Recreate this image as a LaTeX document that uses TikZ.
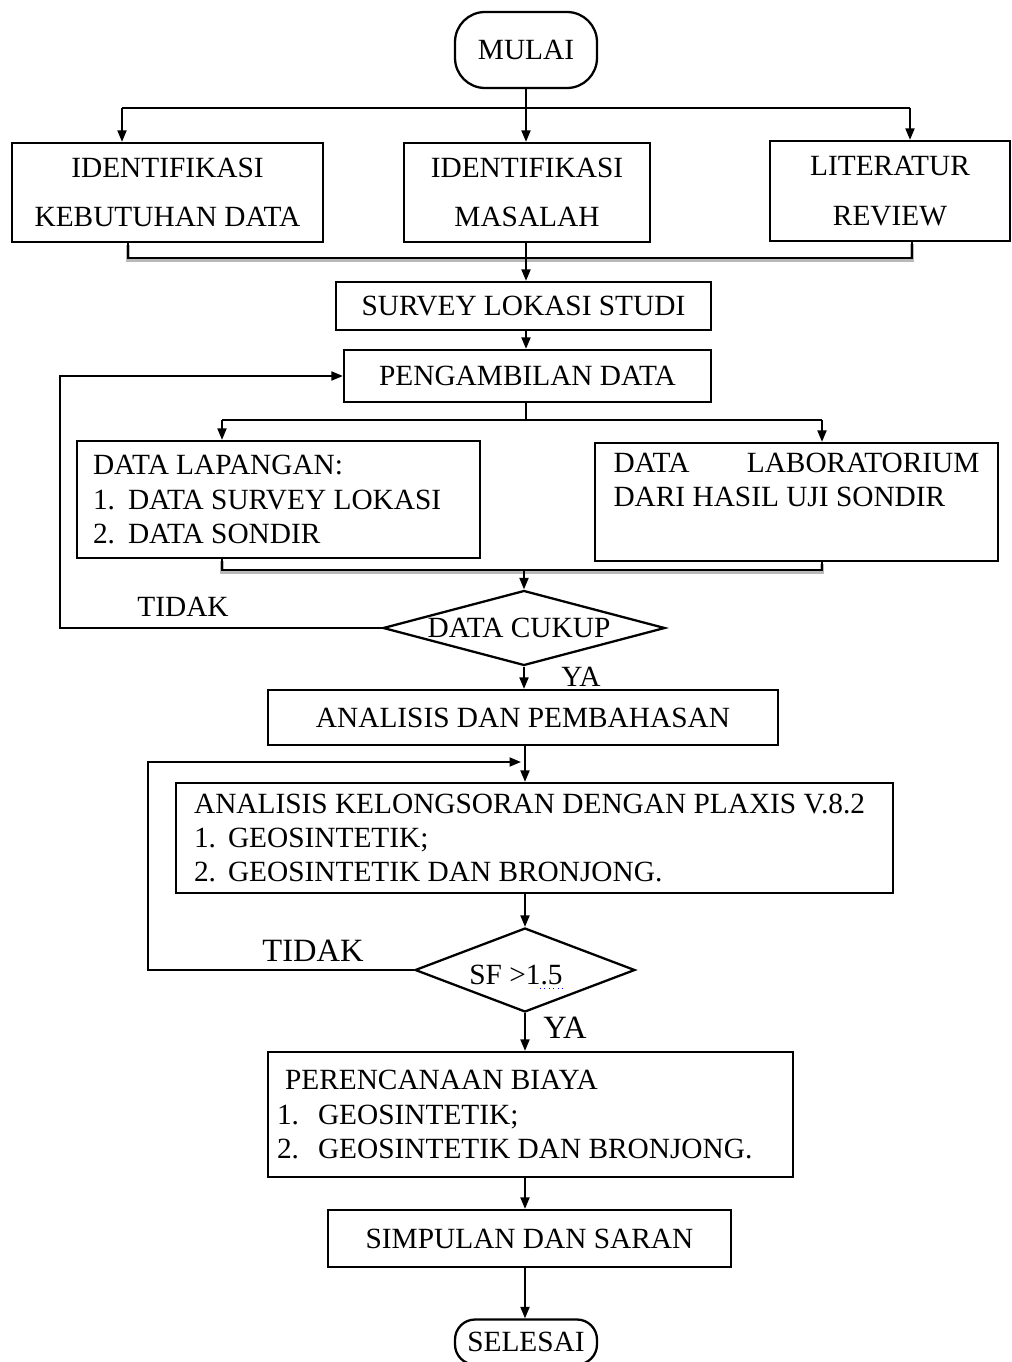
\documentclass[tikz,border=0pt]{standalone}
\usepackage{fontspec}
\setmainfont{Liberation Serif}
\usetikzlibrary{positioning,shapes.geometric,arrows.meta,calc}

\begin{document}
\begin{tikzpicture}[
    x=0.02cm, y=-0.02cm,
    font=\fontsize{16.7}{19.6}\selectfont,
    line width=1.1pt,
    box/.style={draw, line width=1.3pt, inner sep=0pt, align=center},
    listbox/.style={draw, line width=1.3pt, align=flush left, inner ysep=0pt},
    term/.style={box, rounded corners=0.6cm, minimum width=2.84cm},
    decision/.style={diamond, draw, line width=1.3pt, inner sep=0pt},
    arr/.style={-{Triangle[length=0.23cm,width=0.18cm]}},
    merge/.style={preaction={draw, gray!55, line width=2.2pt, transform canvas={yshift=-0.04cm}}},
    lbl/.style={inner sep=0pt}
]
    \useasboundingbox (0,0) rectangle (1011,1362);

    % Boxes, top to bottom:
    \node[term, minimum height=1.52cm] (mulai) at (526,50) {MULAI};
    \node[box, minimum width=6.22cm, minimum height=1.98cm] (idkeb) at (167.5,192.5) {IDENTIFIKASI\\[0.3cm]KEBUTUHAN DATA};
    \node[box, minimum width=4.92cm, minimum height=1.98cm] (idmas) at (527,192.5) {IDENTIFIKASI\\[0.3cm]MASALAH};
    \node[box, minimum width=4.8cm, minimum height=2cm] (lit) at (890,191) {LITERATUR\\[0.3cm]REVIEW};
    \node[box, minimum width=7.5cm, minimum height=0.96cm] (survey) at (523.5,306) {SURVEY LOKASI STUDI};
    \node[box, minimum width=7.34cm, minimum height=1.04cm] (ambil) at (527.5,376) {PENGAMBILAN DATA};
    \node[listbox, text width=7.42cm, inner xsep=0.32cm, minimum height=2.34cm] (lap) at (278.5,499.5)
        {DATA LAPANGAN:\\\makebox[0.7cm][l]{1.}DATA SURVEY LOKASI\\\makebox[0.7cm][l]{2.}DATA SONDIR};
    \node[listbox, text width=7.32cm, inner xsep=0.37cm, minimum height=2.36cm] (lab) at (796.5,502)
        {DATA\hfill LABORATORIUM\\DARI HASIL UJI SONDIR\\\strut};
    \node[decision, minimum width=5.64cm, minimum height=1.5cm] (cukup) at (524,628) {};
    \node[lbl] (cukuptext) at (519,628) {DATA CUKUP};
    \node[box, minimum width=10.2cm, minimum height=1.1cm] (bahas) at (523,717.5) {ANALISIS DAN PEMBAHASAN};
    \node[listbox, text width=13.62cm, inner xsep=0.36cm, minimum height=2.2cm] (longsor) at (534.5,838)
        {ANALISIS KELONGSORAN DENGAN PLAXIS V.8.2\\\makebox[0.68cm][l]{1.}GEOSINTETIK;\\\makebox[0.68cm][l]{2.}GEOSINTETIK DAN BRONJONG.};
    \node[decision, minimum width=4.4cm, minimum height=1.68cm] (sf) at (525,970) {};
    \node[lbl] (sftext) at (516,975) {SF >1.5};
    \node[listbox, text width=10.14cm, inner xsep=0.18cm, minimum height=2.5cm] (biaya) at (530.5,1114.5)
        {\hspace*{0.16cm}PERENCANAAN BIAYA\\\makebox[0.82cm][l]{1.}GEOSINTETIK;\\\makebox[0.82cm][l]{2.}GEOSINTETIK DAN BRONJONG.};
    \node[box, minimum width=8.06cm, minimum height=1.14cm] (simpul) at (529.5,1238.5) {SIMPULAN DAN SARAN};
    \node[term, minimum height=0.9cm, rounded corners=0.4cm] (selesai) at (526,1342) {SELESAI};

    % Branch labels
    \node[lbl] (tidak1) at (183,607) {TIDAK};
    \node[lbl] (ya1) at (581,677) {YA};
    \node[lbl, font=\fontsize{18.5}{20}\selectfont] (tidak2) at (313,951) {TIDAK};
    \node[lbl, font=\fontsize{18.5}{20}\selectfont] (ya2) at (565,1028) {YA};
    \draw[blue, dotted, line width=0.6pt] ($(sftext.base east)+(-24,4)$) -- ($(sftext.base east)+(0,4)$);

    % Top split and merge
    \coordinate (splitL) at (122,108);
    \coordinate (splitR) at (910,108);
    \draw (splitL) -- (splitR);
    \draw[arr] (mulai) -- (mulai |- idmas.north);
    \draw[arr] (splitL) -- (splitL |- idkeb.north);
    \draw[arr] (splitR) -- (splitR |- lit.north);
    \coordinate (joinL) at (128,258);
    \coordinate (joinR) at (912,258);
    \draw[merge] (joinL |- idkeb.south) -- (joinL) -- (joinR) -- (joinR |- lit.south);
    \draw[arr] (mulai |- idmas.south) -- (mulai |- survey.north);
    \draw[arr] (mulai |- survey.south) -- (mulai |- ambil.north);

    % Data branch
    \coordinate (branchL) at (222,420);
    \coordinate (branchR) at (822,420);
    \draw (mulai |- ambil.south) -- (mulai |- branchL);
    \draw (branchL) -- (branchR);
    \draw[arr] (branchL) -- (branchL |- lap.north);
    \draw[arr] (branchR) -- (branchR |- lab.north);
    \coordinate (dataL) at (222,570);
    \coordinate (dataR) at (822,570);
    \draw[merge] (dataL |- lap.south) -- (dataL) -- (dataR) -- (dataR |- lab.south);
    \draw[arr] (cukup |- dataL) -- (cukup);

    % Loops back
    \coordinate (loopA) at (60,376);
    \draw[arr] (cukup) -| (loopA) -- (ambil);
    \draw[arr] (cukup) -- (cukup |- bahas.north);
    \draw[arr] (sf |- bahas.south) -- (sf |- longsor.north);
    \coordinate (loopB) at (148,762);
    \coordinate (loopBend) at (521,762);
    \draw[arr] (sf) -| (loopB) -- (loopBend);
    \draw[arr] (sf |- longsor.south) -- (sf);
    \draw[arr] (sf) -- (sf |- biaya.north);
    \draw[arr] (sf |- biaya.south) -- (sf |- simpul.north);
    \draw[arr] (sf |- simpul.south) -- (sf |- selesai.north);
\end{tikzpicture}
\end{document}
